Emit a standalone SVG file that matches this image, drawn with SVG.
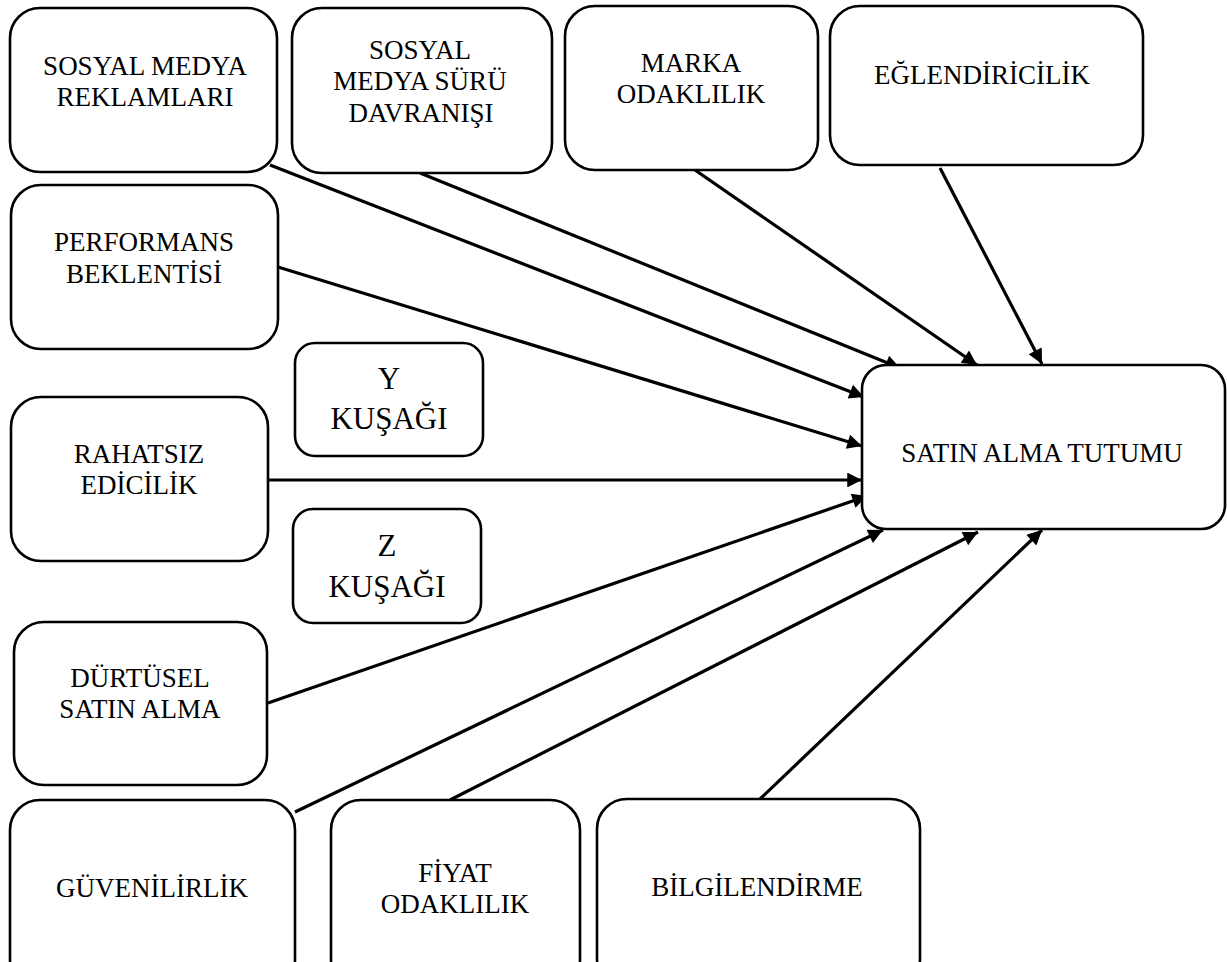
<svg xmlns="http://www.w3.org/2000/svg" width="1227" height="962" viewBox="0 0 1227 962">
<style>
.box{fill:#fff;stroke:#000;stroke-width:2.6}
.t{font-family:"Liberation Serif","Times New Roman",serif;font-size:27px;fill:#000;text-anchor:middle}
.big{font-size:31px}
.c{stroke:#000;stroke-width:3.2;fill:none;marker-end:url(#ah)}
</style>
<defs>
<marker id="ah" viewBox="0 0 10 10" refX="10" refY="5" markerWidth="5.6" markerHeight="4.6" markerUnits="strokeWidth" orient="auto">
<path d="M0,0 L10,5 L0,10 z" fill="#000"/>
</marker>
</defs>
<rect width="1227" height="962" fill="#fff"/>
<g id="connectors">
<line class="c" x1="270" y1="165" x2="864" y2="397"/>
<line class="c" x1="420" y1="173" x2="900" y2="368"/>
<line class="c" x1="695" y1="170" x2="977" y2="365"/>
<line class="c" x1="940" y1="168" x2="1042" y2="364"/>
<line class="c" x1="278" y1="267" x2="862" y2="446"/>
<line class="c" x1="268" y1="480" x2="862" y2="480"/>
<line class="c" x1="268" y1="703" x2="867" y2="496"/>
<line class="c" x1="295" y1="812" x2="883" y2="530"/>
<line class="c" x1="450" y1="800" x2="978" y2="532"/>
<line class="c" x1="760" y1="799" x2="1042" y2="530"/>
</g>
<g id="n1"><rect class="box" x="10" y="8" width="267" height="164" rx="30"/>
<text class="t" x="145" y="75">SOSYAL MEDYA</text><text class="t" x="145" y="106">REKLAMLARI</text></g>
<g id="n2"><rect class="box" x="292" y="8" width="260" height="165" rx="30"/>
<text class="t" x="420" y="59">SOSYAL</text><text class="t" x="420" y="90">MEDYA SÜRÜ</text><text class="t" x="421" y="122">DAVRANIŞI</text></g>
<g id="n3"><rect class="box" x="565" y="6" width="253" height="164" rx="30"/>
<text class="t" x="691" y="72">MARKA</text><text class="t" x="691" y="103">ODAKLILIK</text></g>
<g id="n4"><rect class="box" x="830" y="6" width="313" height="159" rx="30"/>
<text class="t" x="982" y="84">EĞLENDİRİCİLİK</text></g>
<g id="n5"><rect class="box" x="11" y="185" width="267" height="164" rx="30"/>
<text class="t" x="144" y="251">PERFORMANS</text><text class="t" x="144" y="283">BEKLENTİSİ</text></g>
<g id="ny"><rect class="box" x="295" y="343" width="188" height="113" rx="20"/>
<text class="t big" x="389" y="389">Y</text><text class="t big" x="389" y="429">KUŞAĞI</text></g>
<g id="n6"><rect class="box" x="11" y="397" width="257" height="164" rx="30"/>
<text class="t" x="139" y="463">RAHATSIZ</text><text class="t" x="139" y="494">EDİCİLİK</text></g>
<g id="nz"><rect class="box" x="293" y="509" width="188" height="114" rx="20"/>
<text class="t big" x="387" y="556">Z</text><text class="t big" x="387" y="597">KUŞAĞI</text></g>
<g id="n7"><rect class="box" x="14" y="622" width="253" height="163" rx="30"/>
<text class="t" x="140" y="687">DÜRTÜSEL</text><text class="t" x="140" y="718">SATIN ALMA</text></g>
<g id="n8"><rect class="box" x="10" y="800" width="285" height="190" rx="30"/>
<text class="t" x="152" y="897">GÜVENİLİRLİK</text></g>
<g id="n9"><rect class="box" x="331" y="800" width="249" height="190" rx="30"/>
<text class="t" x="455" y="882">FİYAT</text><text class="t" x="455" y="913">ODAKLILIK</text></g>
<g id="n10"><rect class="box" x="597" y="799" width="323" height="190" rx="30"/>
<text class="t" x="757" y="896">BİLGİLENDİRME</text></g>
<g id="target"><rect class="box" x="862" y="365" width="363" height="164" rx="24"/>
<text class="t" x="1042" y="462">SATIN ALMA TUTUMU</text></g>
</svg>
